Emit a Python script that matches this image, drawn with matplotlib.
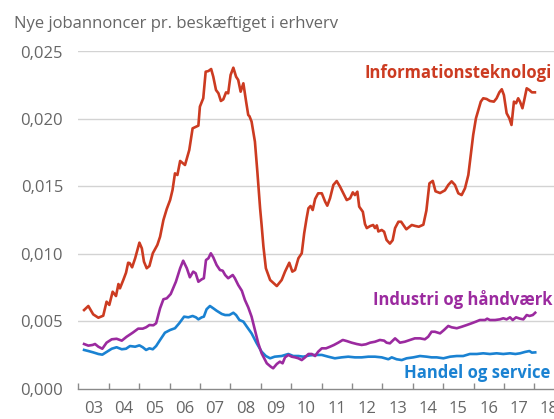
import numpy as np
import matplotlib
matplotlib.use("Agg")
import matplotlib.pyplot as plt
from matplotlib.ticker import FixedLocator, FuncFormatter

plt.rcParams['font.family'] = ['Open Sans', 'DejaVu Sans']

# Informationsteknologi (year, value)
it_year = [2003.19, 2003.33, 2003.49, 2003.66, 2003.82, 2003.93, 2004.02, 2004.13, 2004.24, 2004.32,
           2004.37, 2004.48, 2004.57, 2004.64, 2004.69, 2004.77, 2004.87, 2005.01, 2005.09, 2005.16,
           2005.25, 2005.34, 2005.45, 2005.60, 2005.69, 2005.80, 2005.91, 2006.02, 2006.10, 2006.18,
           2006.26, 2006.35, 2006.51, 2006.65, 2006.76, 2006.95, 2007.00, 2007.11, 2007.19, 2007.28,
           2007.37, 2007.44, 2007.53, 2007.61, 2007.69, 2007.77, 2007.86, 2007.93, 2008.01, 2008.10,
           2008.19, 2008.26, 2008.34, 2008.43, 2008.52, 2008.59, 2008.63, 2008.70, 2008.81, 2008.89,
           2008.98, 2009.03, 2009.09, 2009.17, 2009.31, 2009.53, 2009.69, 2009.80, 2009.94, 2010.04,
           2010.13, 2010.24, 2010.35, 2010.43, 2010.51, 2010.57, 2010.64, 2010.71, 2010.79, 2010.89,
           2011.01, 2011.12, 2011.19, 2011.28, 2011.39, 2011.50, 2011.61, 2011.72, 2011.83, 2011.94,
           2012.03, 2012.10, 2012.18, 2012.24, 2012.36, 2012.43, 2012.49, 2012.60, 2012.70, 2012.76,
           2012.82, 2012.87, 2012.98, 2013.06, 2013.14, 2013.25, 2013.34, 2013.42, 2013.53, 2013.62,
           2013.79, 2013.97, 2014.08, 2014.20, 2014.35, 2014.45, 2014.55, 2014.66, 2014.75, 2014.90,
           2015.06, 2015.17, 2015.28, 2015.39, 2015.50, 2015.61, 2015.72, 2015.83, 2015.91, 2015.99,
           2016.08, 2016.16, 2016.24, 2016.32, 2016.43, 2016.54, 2016.67, 2016.76, 2016.85, 2016.93,
           2017.00, 2017.09, 2017.18, 2017.25, 2017.33, 2017.40, 2017.47, 2017.53, 2017.61, 2017.67,
           2017.75, 2017.84, 2017.92, 2018.02]
it_val = [0.00582, 0.00612, 0.00550, 0.00525, 0.00540, 0.00644, 0.00620, 0.00718, 0.00686, 0.00775,
          0.00743, 0.00805, 0.00859, 0.00933, 0.00930, 0.00899, 0.00966, 0.01082, 0.01040, 0.00941,
          0.00892, 0.00909, 0.01003, 0.01065, 0.01126, 0.01250, 0.01332, 0.01398, 0.01473, 0.01596,
          0.01584, 0.01688, 0.01658, 0.01769, 0.01930, 0.01950, 0.02091, 0.02153, 0.02350, 0.02355,
          0.02370, 0.02313, 0.02214, 0.02190, 0.02133, 0.02145, 0.02197, 0.02190, 0.02326, 0.02380,
          0.02313, 0.02289, 0.02202, 0.02264, 0.02128, 0.02029, 0.02020, 0.01980, 0.01831, 0.01608,
          0.01337, 0.01213, 0.01052, 0.00892, 0.00805, 0.00760, 0.00805, 0.00867, 0.00933, 0.00867,
          0.00879, 0.00966, 0.01003, 0.01151, 0.01263, 0.01337, 0.01354, 0.01324, 0.01406, 0.01448,
          0.01448, 0.01386, 0.01356, 0.01411, 0.01510, 0.01539, 0.01497, 0.01448, 0.01398, 0.01411,
          0.01455, 0.01435, 0.01460, 0.01349, 0.01311, 0.01220, 0.01190, 0.01205, 0.01213, 0.01190,
          0.01210, 0.01165, 0.01176, 0.01163, 0.01102, 0.01075, 0.01100, 0.01190, 0.01237, 0.01237,
          0.01181, 0.01213, 0.01206, 0.01200, 0.01215, 0.01320, 0.01522, 0.01540, 0.01463, 0.01450,
          0.01470, 0.01510, 0.01537, 0.01510, 0.01448, 0.01435, 0.01485, 0.01584, 0.01732, 0.01881,
          0.02004, 0.02066, 0.02128, 0.02153, 0.02148, 0.02133, 0.02128, 0.02153, 0.02197, 0.02220,
          0.02177, 0.02042, 0.02004, 0.01955, 0.02128, 0.02116, 0.02153, 0.02128, 0.02079, 0.02140,
          0.02227, 0.02214, 0.02197, 0.02197]

# Industri og håndværk
ind_year = [2003.19, 2003.33, 2003.47, 2003.55, 2003.66, 2003.79, 2003.93, 2004.10, 2004.26, 2004.43,
            2004.59, 2004.79, 2004.97, 2005.12, 2005.23, 2005.34, 2005.47, 2005.56, 2005.69, 2005.80,
            2005.91, 2006.04, 2006.21, 2006.35, 2006.45, 2006.57, 2006.67, 2006.78, 2006.86, 2006.95,
            2007.06, 2007.13, 2007.20, 2007.28, 2007.36, 2007.44, 2007.55, 2007.66, 2007.75, 2007.83,
            2007.93, 2008.08, 2008.15, 2008.26, 2008.38, 2008.48, 2008.59, 2008.70, 2008.81, 2008.92,
            2009.03, 2009.20, 2009.33, 2009.41, 2009.53, 2009.63, 2009.72, 2009.80, 2009.91, 2010.02,
            2010.13, 2010.24, 2010.35, 2010.46, 2010.57, 2010.68, 2010.79, 2010.89, 2011.01, 2011.15,
            2011.28, 2011.41, 2011.55, 2011.70, 2011.83, 2011.99, 2012.16, 2012.32, 2012.46, 2012.60,
            2012.76, 2012.92, 2013.06, 2013.14, 2013.25, 2013.42, 2013.58, 2013.74, 2013.91, 2014.07,
            2014.24, 2014.40, 2014.51, 2014.62, 2014.73, 2014.90, 2015.03, 2015.17, 2015.28, 2015.45,
            2015.61, 2015.78, 2015.94, 2016.08, 2016.21, 2016.38, 2016.45, 2016.54, 2016.71, 2016.87,
            2016.98, 2017.09, 2017.20, 2017.29, 2017.40, 2017.53, 2017.64, 2017.75, 2017.84, 2017.95,
            2018.03]
ind_val = [0.00330, 0.00318, 0.00323, 0.00330, 0.00310, 0.00295, 0.00340, 0.00365, 0.00369, 0.00355,
           0.00384, 0.00414, 0.00444, 0.00444, 0.00454, 0.00471, 0.00469, 0.00484, 0.00595, 0.00662,
           0.00669, 0.00701, 0.00792, 0.00892, 0.00948, 0.00892, 0.00825, 0.00867, 0.00855, 0.00792,
           0.00810, 0.00818, 0.00953, 0.00966, 0.01003, 0.00973, 0.00916, 0.00879, 0.00874, 0.00842,
           0.00818, 0.00842, 0.00818, 0.00768, 0.00725, 0.00657, 0.00602, 0.00533, 0.00434, 0.00335,
           0.00261, 0.00187, 0.00162, 0.00150, 0.00182, 0.00199, 0.00187, 0.00231, 0.00249, 0.00236,
           0.00231, 0.00224, 0.00211, 0.00231, 0.00256, 0.00256, 0.00241, 0.00273, 0.00298, 0.00298,
           0.00310, 0.00323, 0.00340, 0.00360, 0.00352, 0.00340, 0.00330, 0.00323, 0.00328, 0.00340,
           0.00347, 0.00360, 0.00355, 0.00340, 0.00335, 0.00372, 0.00340, 0.00347, 0.00360, 0.00372,
           0.00372, 0.00365, 0.00384, 0.00421, 0.00421, 0.00409, 0.00434, 0.00464, 0.00454, 0.00447,
           0.00458, 0.00471, 0.00484, 0.00496, 0.00508, 0.00508, 0.00518, 0.00508, 0.00508, 0.00513,
           0.00521, 0.00513, 0.00528, 0.00508, 0.00528, 0.00518, 0.00513, 0.00545, 0.00538, 0.00545,
           0.00562]

# Handel og service
han_year = [2003.19, 2003.33, 2003.49, 2003.66, 2003.79, 2003.93, 2004.10, 2004.26, 2004.43, 2004.57,
            2004.70, 2004.87, 2005.01, 2005.12, 2005.23, 2005.34, 2005.45, 2005.56, 2005.69, 2005.85,
            2006.02, 2006.18, 2006.32, 2006.48, 2006.62, 2006.76, 2006.87, 2006.95, 2007.06, 2007.13,
            2007.22, 2007.33, 2007.44, 2007.55, 2007.72, 2007.83, 2007.97, 2008.10, 2008.19, 2008.30,
            2008.43, 2008.54, 2008.70, 2008.87, 2009.03, 2009.17, 2009.31, 2009.46, 2009.69, 2009.91,
            2010.07, 2010.24, 2010.40, 2010.62, 2010.79, 2011.01, 2011.22, 2011.44, 2011.66, 2011.88,
            2012.10, 2012.32, 2012.54, 2012.76, 2012.98, 2013.20, 2013.31, 2013.47, 2013.64, 2013.80,
            2014.02, 2014.24, 2014.46, 2014.62, 2014.79, 2015.01, 2015.23, 2015.45, 2015.66, 2015.88,
            2016.11, 2016.32, 2016.54, 2016.76, 2016.98, 2017.20, 2017.38, 2017.53, 2017.69, 2017.84,
            2017.92, 2018.03]
han_val = [0.00286, 0.00278, 0.00268, 0.00256, 0.00251, 0.00271, 0.00295, 0.00306, 0.00291, 0.00295,
           0.00315, 0.00310, 0.00320, 0.00306, 0.00286, 0.00298, 0.00291, 0.00315, 0.00360, 0.00414,
           0.00434, 0.00447, 0.00484, 0.00533, 0.00528, 0.00538, 0.00528, 0.00513, 0.00528, 0.00533,
           0.00588, 0.00612, 0.00595, 0.00577, 0.00553, 0.00545, 0.00545, 0.00562, 0.00545, 0.00508,
           0.00496, 0.00460, 0.00409, 0.00335, 0.00273, 0.00241, 0.00224, 0.00236, 0.00241, 0.00256,
           0.00241, 0.00241, 0.00236, 0.00246, 0.00249, 0.00249, 0.00236, 0.00224, 0.00231, 0.00236,
           0.00231, 0.00231, 0.00236, 0.00236, 0.00231, 0.00217, 0.00231, 0.00217, 0.00211, 0.00224,
           0.00231, 0.00241, 0.00236, 0.00231, 0.00231, 0.00224, 0.00236, 0.00241, 0.00241, 0.00256,
           0.00256, 0.00261, 0.00256, 0.00261, 0.00256, 0.00261, 0.00256, 0.00261, 0.00271, 0.00278,
           0.00266, 0.00268]

years = list(range(2003, 2019))
year_labels = [f"{y % 100:02d}" for y in years]
yticks = [0.0, 0.005, 0.010, 0.015, 0.020, 0.025]

red = '#CC3B21'
purple = '#9B2A9F'
blue = '#1A82D2'
grey_txt = '#666666'

fig = plt.figure(figsize=(5.54, 4.19), dpi=100)
ax = fig.add_axes([78.3 / 554, 1 - 388.5 / 419, (554 - 78.3) / 554, (388.5 - 51.5) / 419])

ax.plot(han_year, han_val, color=blue, lw=1.9, solid_joinstyle='round')
ax.plot(ind_year, ind_val, color=purple, lw=1.9, solid_joinstyle='round')
ax.plot(it_year, it_val, color=red, lw=1.9, solid_joinstyle='round')

ax.set_xlim(2003, 2003 + (554 - 78.3) / 30.4)
ax.set_ylim(0, 0.025)

for s in ['top', 'right', 'left']:
    ax.spines[s].set_visible(False)
ax.spines['bottom'].set_color('#8a8a8a')
ax.spines['bottom'].set_linewidth(1.0)

ax.set_yticks(yticks)
ax.yaxis.set_major_formatter(FuncFormatter(lambda v, p: f"{v:.3f}".replace('.', ',')))
ax.tick_params(axis='y', length=0, pad=11, labelsize=12, labelcolor=grey_txt)
for yt in yticks[1:]:
    ax.axhline(yt, color='#d3d3d3', lw=1.0, zorder=0)

ax.xaxis.set_major_locator(FixedLocator(years))
ax.xaxis.set_major_formatter(FuncFormatter(lambda v, p: ''))
ax.xaxis.set_minor_locator(FixedLocator([y + 0.5 for y in years]))
ax.set_xticklabels(year_labels, minor=True)
ax.tick_params(axis='x', which='major', direction='in', length=4, width=1, color='#8a8a8a')
ax.tick_params(axis='x', which='minor', length=0, pad=9, labelsize=12, labelcolor=grey_txt)

fig.text(14 / 554, 1 - 28.3 / 419, 'Nye jobannoncer pr. beskæftiget i erhverv',
         fontsize=12, color=grey_txt, va='baseline', ha='left')
fig.text(365 / 554, 1 - 73 / 419, 'Informationsteknologi', fontsize=12, fontweight='bold',
         color=red, va='center', ha='left')
fig.text(373 / 554, 1 - 299 / 419, 'Industri og håndværk', fontsize=12, fontweight='bold',
         color=purple, va='center', ha='left')
fig.text(404 / 554, 1 - 373 / 419, 'Handel og service', fontsize=12, fontweight='bold',
         color=blue, va='center', ha='left')

fig.savefig('out.png', dpi=100)
